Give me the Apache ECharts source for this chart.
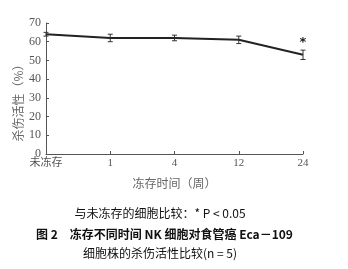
<!DOCTYPE html>
<html><head><meta charset="utf-8">
<script src="https://cdn.jsdelivr.net/npm/echarts@6/dist/echarts.min.js"></script>
<style>html,body{margin:0;padding:0;background:#fff}#c{width:348px;height:269px}</style>
</head><body><div id="c"></div>
<script>
var categories = ['未冻存', '1', '4', '12', '24'];
var killing = [64, 62, 62, 61, 53];
var errors = [1, 2, 1.5, 2, 2.5];
var sigMarks = ['', '', '', '', '*'];
var yTicks = [0, 10, 20, 30, 40, 50, 60, 70];

var chart = echarts.init(document.getElementById('c'));
var sans = '"Noto Sans CJK SC", "DejaVu Serif", serif';
chart.setOption({
  animation: false,
  grid: {left: 46, right: 45, top: 23, bottom: 115},
  xAxis: {
    type: 'category', data: categories, boundaryGap: false,
    name: '冻存时间（周）', nameLocation: 'middle', nameGap: 23,
    nameTextStyle: {color: '#666', fontSize: 12, fontFamily: sans},
    axisLine: {lineStyle: {color: '#555', width: 1}},
    axisTick: {inside: true, length: 3, lineStyle: {color: '#555'}},
    axisLabel: {color: '#555', fontSize: 11, margin: 4, fontFamily: '"Liberation Serif", "Noto Sans CJK SC", serif'}
  },
  yAxis: {
    type: 'value', min: yTicks[0], max: yTicks[yTicks.length - 1], interval: 10,
    axisLine: {show: true, lineStyle: {color: '#555', width: 1}},
    axisTick: {show: true, inside: true, length: 3, lineStyle: {color: '#555'}},
    splitLine: {show: false},
    axisLabel: {color: '#555', fontSize: 12, margin: 5, fontFamily: '"Liberation Serif", serif'}
  },
  series: [
    {
      type: 'line', data: killing, symbol: 'none',
      lineStyle: {color: '#222', width: 2}, z: 3
    },
    {
      type: 'custom', z: 4,
      data: killing.map(function (v, i) { return [i, v - errors[i], v + errors[i], sigMarks[i]]; }),
      renderItem: function (params, api) {
        var lo = api.coord([api.value(0), api.value(1)]);
        var hi = api.coord([api.value(0), api.value(2)]);
        var w = 2.5;
        var st = {stroke: '#333', lineWidth: 1};
        var mark = sigMarks[params.dataIndex];
        var ch = [
          {type: 'line', shape: {x1: lo[0], y1: lo[1], x2: hi[0], y2: hi[1]}, style: st},
          {type: 'line', shape: {x1: lo[0] - w, y1: lo[1], x2: lo[0] + w, y2: lo[1]}, style: st},
          {type: 'line', shape: {x1: hi[0] - w, y1: hi[1], x2: hi[0] + w, y2: hi[1]}, style: st}
        ];
        if (mark) {
          ch.push({type: 'text', style: {text: mark, x: hi[0], y: hi[1] - 1, textAlign: 'center', textVerticalAlign: 'bottom', font: 'bold 13px "DejaVu Sans"', fill: '#222'}});
        }
        return {type: 'group', children: ch};
      }
    }
  ],
  graphic: [
    {type: 'text', x: 18, y: 100, rotation: Math.PI / 2, style: {text: '杀伤活性（%）', font: '12px ' + sans, fill: '#666', textAlign: 'center', textVerticalAlign: 'middle'}},
    {type: 'text', x: 160, y: 207, style: {text: '与未冻存的细胞比较：* P < 0.05', font: '12px ' + sans, fill: '#111', textAlign: 'center'}},
    {type: 'text', x: 36, y: 228, style: {text: '图 2　冻存不同时间 NK 细胞对食管癌 Eca－109', font: 'bold 12px ' + sans, fill: '#111'}},
    {type: 'text', x: 160, y: 247, style: {text: '细胞株的杀伤活性比较(n = 5)', font: '12px ' + sans, fill: '#111', textAlign: 'center'}}
  ]
});
</script></body></html>
